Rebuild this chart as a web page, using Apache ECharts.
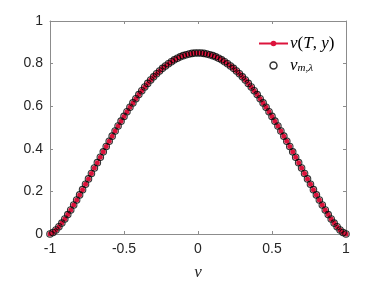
<!DOCTYPE html>
<html><head><meta charset="utf-8">
<script src="https://cdn.jsdelivr.net/npm/echarts@6/dist/echarts.min.js"></script>
<style>html,body{margin:0;padding:0;background:#fff}#c{width:382px;height:286px}</style>
</head><body><div id="c"></div>
<script>
// sample points
var xs = [-1,-0.98,-0.96,-0.94,-0.92,-0.9,-0.88,-0.86,-0.84,-0.82,-0.8,-0.78,-0.76,-0.74,-0.72,-0.7,-0.68,-0.66,-0.64,-0.62,-0.6,-0.58,-0.56,-0.54,-0.52,-0.5,-0.48,-0.46,-0.44,-0.42,-0.4,-0.38,-0.36,-0.34,-0.32,-0.3,-0.28,-0.26,-0.24,-0.22,-0.2,-0.18,-0.16,-0.14,-0.12,-0.1,-0.08,-0.06,-0.04,-0.02,0,0.02,0.04,0.06,0.08,0.1,0.12,0.14,0.16,0.18,0.2,0.22,0.24,0.26,0.28,0.3,0.32,0.34,0.36,0.38,0.4,0.42,0.44,0.46,0.48,0.5,0.52,0.54,0.56,0.58,0.6,0.62,0.64,0.66,0.68,0.7,0.72,0.74,0.76,0.78,0.8,0.82,0.84,0.86,0.88,0.9,0.92,0.94,0.96,0.98,1];
var vExact = [0,0.0067,0.0187,0.0338,0.0512,0.0704,0.0911,0.1129,0.1358,0.1594,0.1836,0.2083,0.2334,0.2586,0.2841,0.3096,0.335,0.3604,0.3856,0.4106,0.4352,0.4595,0.4834,0.5068,0.5297,0.5521,0.5739,0.595,0.6155,0.6353,0.6544,0.6727,0.6902,0.707,0.7228,0.7379,0.752,0.7653,0.7776,0.789,0.7995,0.809,0.8176,0.8251,0.8317,0.8373,0.8419,0.8454,0.848,0.8495,0.85,0.8495,0.848,0.8454,0.8419,0.8373,0.8317,0.8251,0.8176,0.809,0.7995,0.789,0.7776,0.7653,0.752,0.7379,0.7228,0.707,0.6902,0.6727,0.6544,0.6353,0.6155,0.595,0.5739,0.5521,0.5297,0.5068,0.4834,0.4595,0.4352,0.4106,0.3856,0.3604,0.335,0.3096,0.2841,0.2586,0.2334,0.2083,0.1836,0.1594,0.1358,0.1129,0.0911,0.0704,0.0512,0.0338,0.0187,0.0067,0];
var vApprox = vExact.slice();
var xTicks = [-1,-0.5,0,0.5,1];
var yTicks = [0,0.2,0.4,0.6,0.8,1];

var chart = echarts.init(document.getElementById('c'), null, {renderer:'canvas'});
function pairs(a){ return xs.map(function(x,i){ return [x,a[i]]; }); }
var axisCol = '#8c8c8c', txtCol = '#262626';
var tickFont = {color: txtCol, fontFamily: 'Liberation Sans, Arial, sans-serif', fontSize: 14};
var serif = 'Liberation Serif, DejaVu Serif, serif';
var red = '#dc143c';
function ax(extra){
  return Object.assign({
    type: 'value',
    axisLine: {show: true, onZero: false, lineStyle: {color: axisCol, width: 1}},
    axisTick: {show: true, inside: true, length: 3, lineStyle: {color: axisCol}},
    splitLine: {show: false}
  }, extra);
}
chart.setOption({
  animation: false,
  grid: {left: 50, right: 36, top: 21, bottom: 48},
  xAxis: [
    ax({min: xTicks[0], max: xTicks[xTicks.length-1], interval: 0.5, position: 'bottom',
      axisLabel: Object.assign({margin: 8}, tickFont),
      name: 'v', nameLocation: 'middle', nameGap: 30,
      nameTextStyle: {fontFamily: serif, fontStyle: 'italic', fontSize: 17, color: txtCol}}),
    ax({min: xTicks[0], max: xTicks[xTicks.length-1], interval: 0.5, position: 'top', axisLabel: {show: false}})
  ],
  yAxis: [
    ax({min: yTicks[0], max: yTicks[yTicks.length-1], interval: 0.2, position: 'left',
      axisLabel: Object.assign({margin: 7}, tickFont)}),
    ax({min: yTicks[0], max: yTicks[yTicks.length-1], interval: 0.2, position: 'right', axisLabel: {show: false}})
  ],
  legend: {
    orient: 'vertical', left: 253, top: 30, itemWidth: 29, itemHeight: 7, itemGap: 5,
    data: [
      {name: 'vT'},
      {name: 'vm', icon: 'circle', itemStyle: {color: '#fff', borderColor: '#000', borderWidth: 1.5}}
    ],
    formatter: function(n){
      if (n === 'vT') return '{i|v}{n|(}{i|T}{n|, }{i|y}{n|)}';
      return '{i|v}{s|m,λ}';
    },
    textStyle: {
      color: '#000', padding: [0,0,0,-3],
      rich: {
        i: {fontFamily: serif, fontStyle: 'italic', fontSize: 17, color: '#000'},
        n: {fontFamily: serif, fontSize: 17, color: '#000'},
        s: {fontFamily: serif, fontStyle: 'italic', fontSize: 11, color: '#000', verticalAlign: 'bottom', padding: [5,0,0,0]}
      }
    }
  },
  series: [{
    name: 'vT', type: 'line', data: pairs(vExact),
    symbol: 'circle', symbolSize: 5, showAllSymbol: true,
    lineStyle: {color: red, width: 1}, itemStyle: {color: red}, z: 2
  }, {
    name: 'vm', type: 'scatter', data: pairs(vApprox),
    symbol: 'circle', symbolSize: 6.5,
    itemStyle: {color: 'rgba(0,0,0,0)', borderColor: '#000', borderWidth: 1.1}, z: 3
  }]
});
</script></body></html>
